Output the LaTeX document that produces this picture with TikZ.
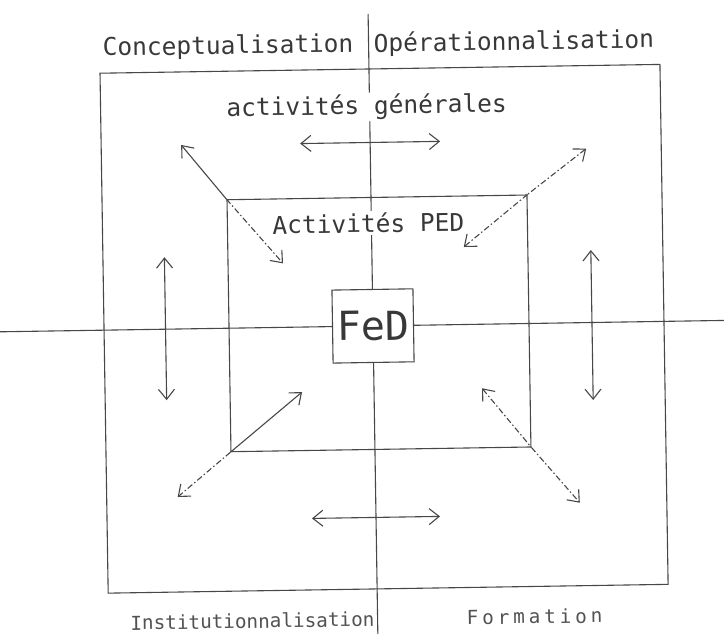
\documentclass[tikz,border=0pt]{standalone}
\usepackage{fontspec}
\setmonofont{DejaVu Sans Mono}
\usetikzlibrary{arrows.meta}
\begin{document}
\begin{tikzpicture}[x=1pt,y=-1pt,
  >={Straight Barb[length=10pt,width=16pt]},
  ln/.style={line width=1.1pt, draw=black!72},
  lbl/.style={font=\ttfamily\fontsize{24.5}{26}\selectfont, text=black!78, inner sep=2pt},
  lblsm/.style={font=\ttfamily\fontsize{19.3}{21}\selectfont, text=black!68, inner sep=2pt},
  fedfont/.style={font=\ttfamily\fontsize{40}{42}\selectfont, text=black!78},
  dsh/.style={dash pattern=on 6pt off 2.5pt on 1.5pt off 2.5pt}
]
\useasboundingbox (0,0) rectangle (724,634);
\begin{scope}[rotate around={0.9:(370,325)}, transform shape]
  % axes
  \coordinate (vtop) at (373,14);
  \coordinate (vbot) at (373,660);
  \coordinate (hl) at (-20,326);
  \coordinate (hr) at (745,326);
  % boxes
  \node[ln, draw, minimum width=560pt, minimum height=520pt, inner sep=0pt] (outer) at (384,329) {};
  \node[ln, draw, minimum width=300pt, minimum height=252pt, inner sep=0pt] (inner) at (379,323.5) {};
  \draw[ln] (vtop) -- (vbot);
  \draw[ln] (hl) -- (hr);
  \node[ln, draw, fill=white, fedfont, minimum width=81pt, minimum height=73pt, inner sep=0pt] (fed) at (373,326) {FeD};
  % labels
  \node[lbl, fill=white] (gen) at (370,107) {activités générales};
  \node[lbl, fill=white] (ped) at (370,223) {Activités PED};
  \node[lbl, anchor=east] (conc) at (360,45) {Conceptualisation};
  \node[lbl, anchor=west] (oper) at (376,45) {Opérationnalisation};
  \node[lblsm, anchor=east] (inst) at (372,619) {Institutionnalisation};
  \node[lblsm] (form) at (530,619) {\addfontfeature{LetterSpace=20}Formation};
  % arrow end points
  \coordinate (tlO) at (184,142);
  \coordinate (tlI) at (284,262);
  \coordinate (trO) at (589,152);
  \coordinate (trI) at (465,248.5);
  \coordinate (blI) at (301,391);
  \coordinate (blO) at (175,494);
  \coordinate (brI) at (481,390);
  \coordinate (brO) at (577,506);
  \coordinate (topL) at (303,142.5);
  \coordinate (topR) at (443,142.5);
  \coordinate (botL) at (309,517.5);
  \coordinate (botR) at (437,517.5);
  \coordinate (lfT) at (165.5,254);
  \coordinate (lfB) at (165.5,397);
  \coordinate (rtT) at (592,253.5);
  \coordinate (rtB) at (592,403.5);
  % diagonal arrows
  \draw[ln, <-] (tlO) -- (inner.north west);
  \draw[ln, dsh, ->] (inner.north west) -- (tlI);
  \draw[ln, dsh, <-] (trO) -- (inner.north east);
  \draw[ln, dsh, ->] (inner.north east) -- (trI);
  \draw[ln, <-] (blI) -- (inner.south west);
  \draw[ln, dsh, ->] (inner.south west) -- (blO);
  \draw[ln, dsh, <-] (brI) -- (inner.south east);
  \draw[ln, dsh, ->] (inner.south east) -- (brO);
  % straight arrows
  \draw[ln, <->] (topL) -- (topR);
  \draw[ln, <->] (botL) -- (botR);
  \draw[ln, <->] (lfT) -- (lfB);
  \draw[ln, <->] (rtT) -- (rtB);
\end{scope}
\end{tikzpicture}
\end{document}
